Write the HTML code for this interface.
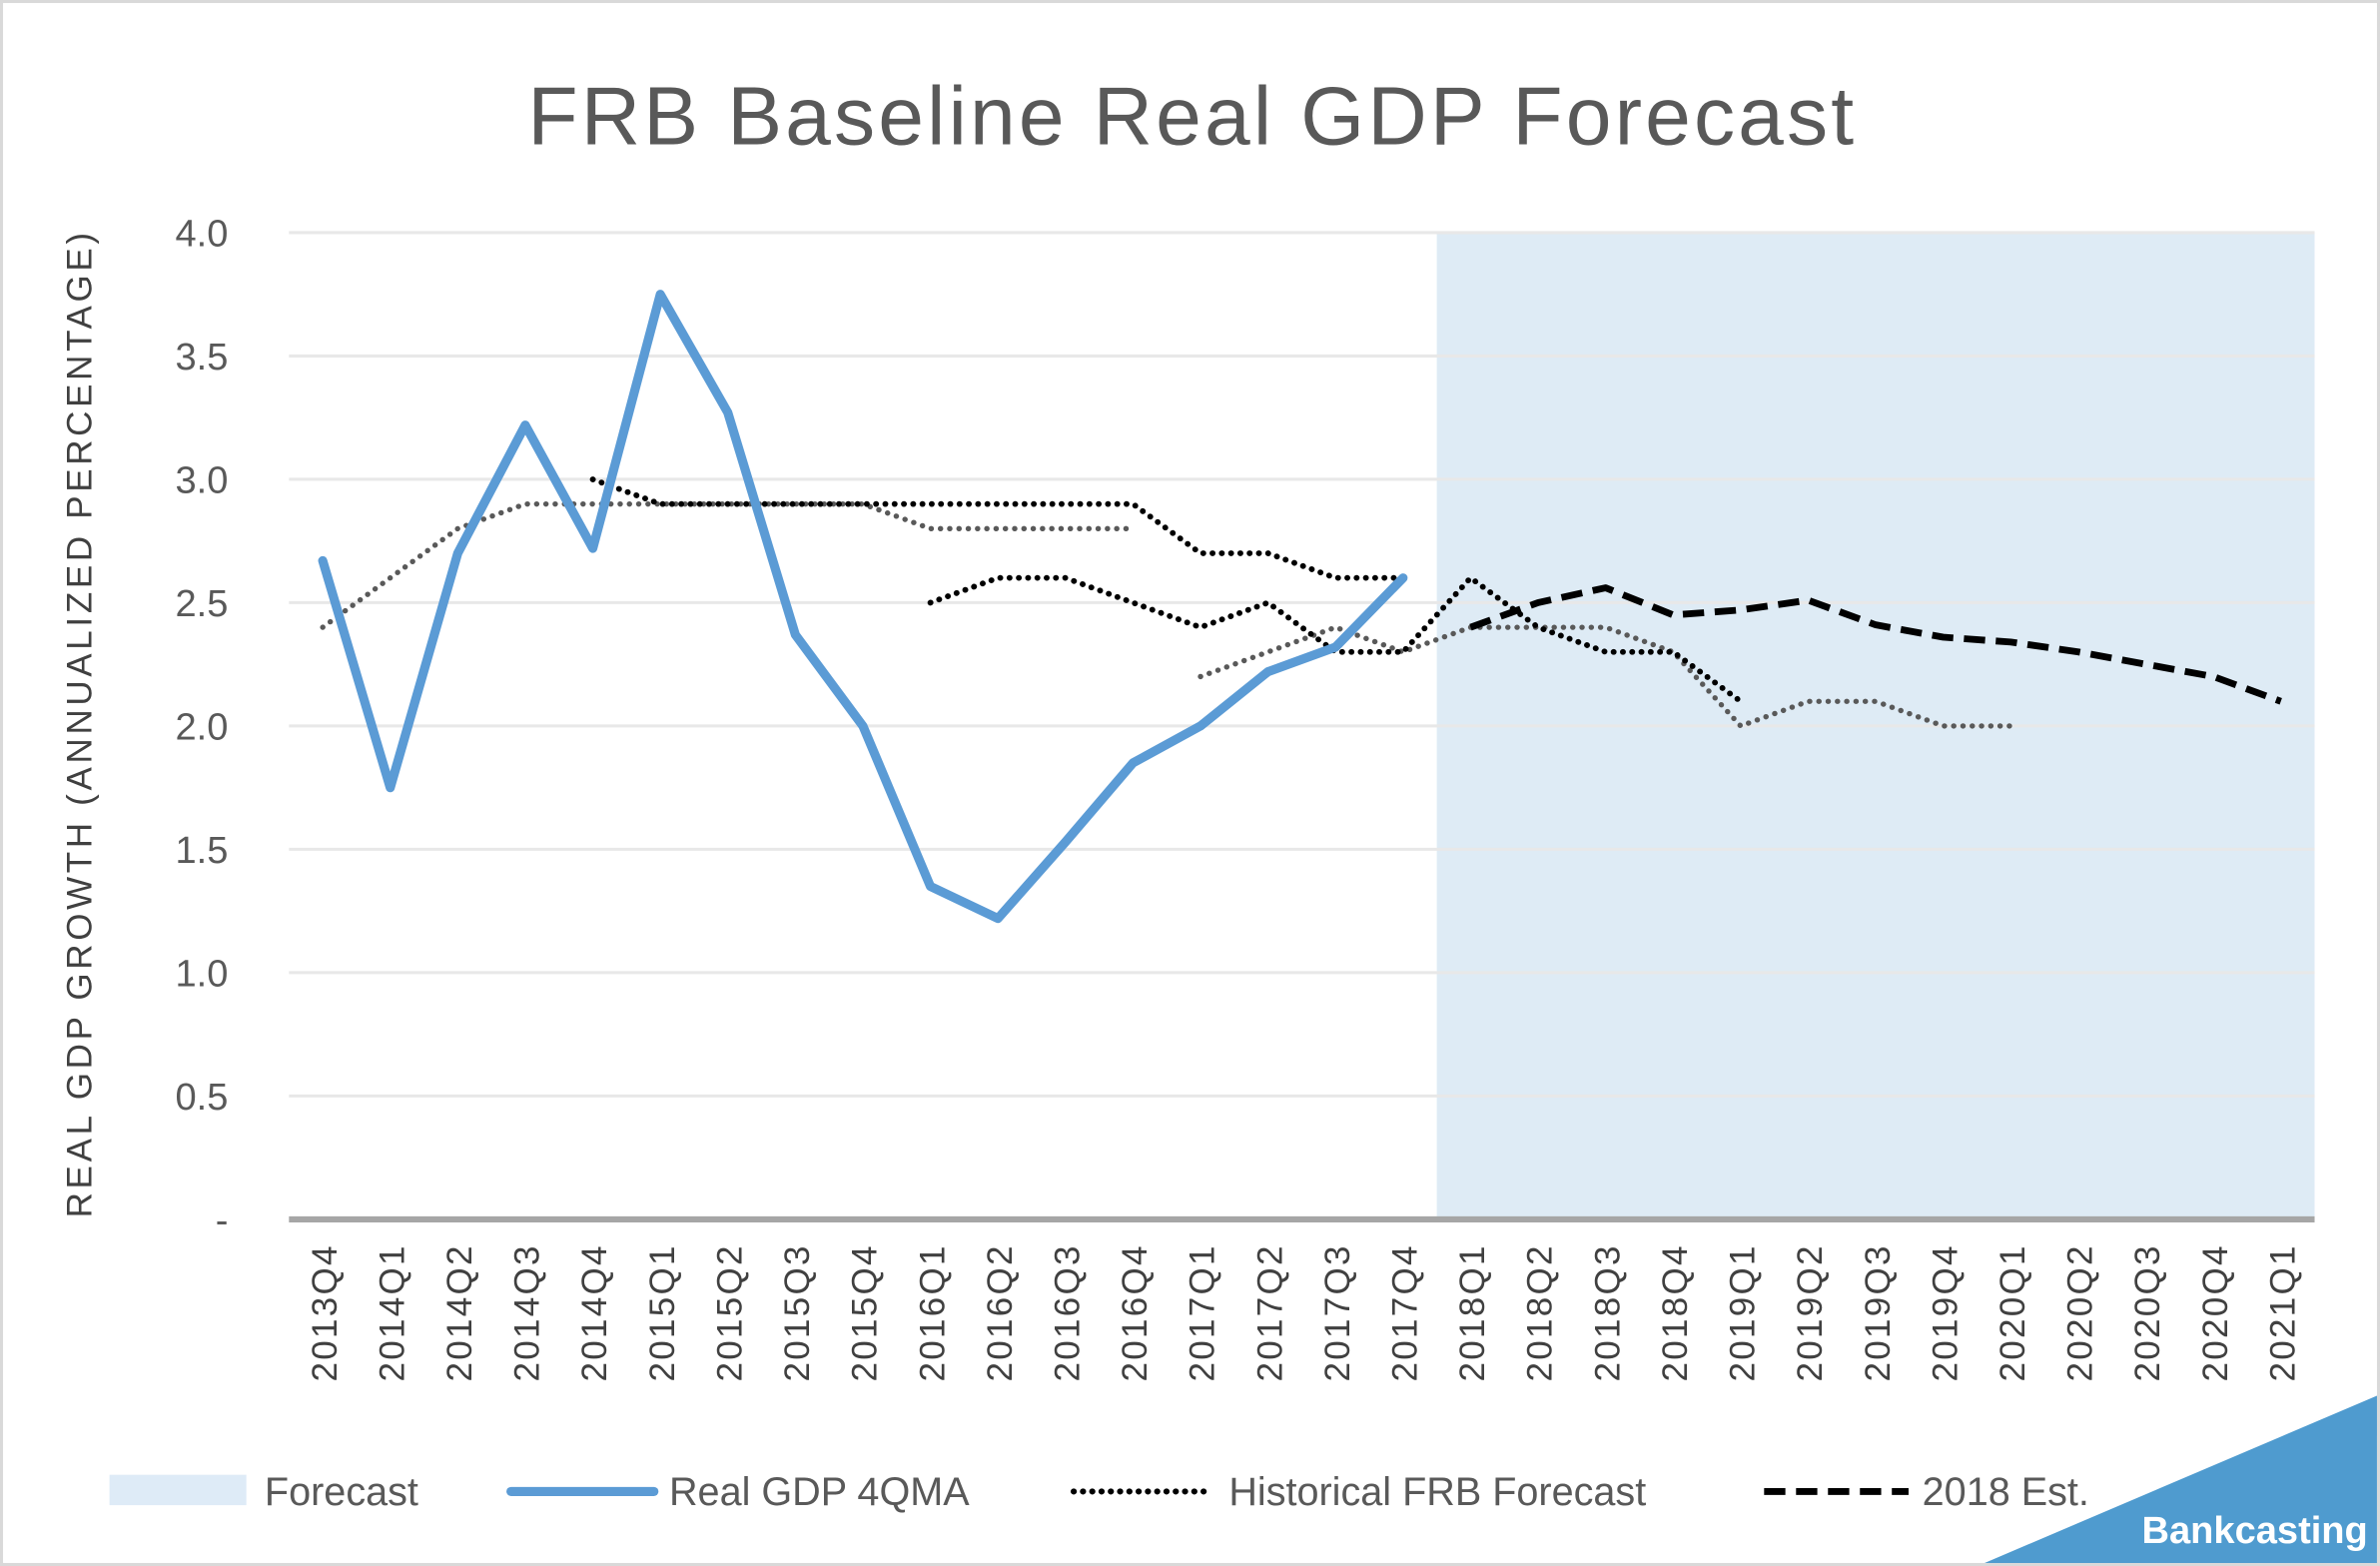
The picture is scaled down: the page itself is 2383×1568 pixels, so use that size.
<!DOCTYPE html>
<html><head><meta charset="utf-8"><style>
html,body{margin:0;padding:0;background:#fff}
svg{display:block}
text{font-family:"Liberation Sans",sans-serif}
</style></head><body>
<svg id="chart" width="2383" height="1568" viewBox="0 0 1565 1030" preserveAspectRatio="none" xmlns="http://www.w3.org/2000/svg">
<rect x="1" y="1" width="1563" height="1028" fill="#fff" stroke="#d9d9d9" stroke-width="2"/>
<text x="783" y="95" text-anchor="middle" font-size="54" fill="#595959" textLength="872">FRB Baseline Real GDP Forecast</text>
<g id="plot"></g>
<text transform="translate(60,477) rotate(-90)" text-anchor="middle" font-size="23" fill="#404040" textLength="648">REAL GDP GROWTH (ANNUALIZED PERCENTAGE)</text>
<g>
<rect x="72" y="970" width="90" height="20" fill="#deebf7"/>
<text x="174" y="990" font-size="26" fill="#595959">Forecast</text>
<line x1="336" y1="981" x2="430" y2="981" stroke="#5b9bd5" stroke-width="6" stroke-linecap="round"/>
<text x="440" y="990" font-size="26" fill="#595959">Real GDP 4QMA</text>
<line x1="706" y1="981" x2="795" y2="981" stroke="#000" stroke-width="4" stroke-dasharray="0.1,6" stroke-linecap="round"/>
<text x="808" y="990" font-size="26" fill="#595959">Historical FRB Forecast</text>
<line x1="1160" y1="981" x2="1255" y2="981" stroke="#000" stroke-width="4.5" stroke-dasharray="14,7"/>
<text x="1264" y="990" font-size="26" fill="#595959">2018 Est.</text>
</g>
<polygon points="1305,1028 1563,918 1563,1028" fill="#4f9bcf"/>
<text x="1557" y="1015" text-anchor="end" font-size="25" font-weight="bold" fill="#fff">Bankcasting</text>
</svg>
<script>
const categories=["2013Q4","2014Q1","2014Q2","2014Q3","2014Q4","2015Q1","2015Q2","2015Q3","2015Q4","2016Q1","2016Q2","2016Q3","2016Q4","2017Q1","2017Q2","2017Q3","2017Q4","2018Q1","2018Q2","2018Q3","2018Q4","2019Q1","2019Q2","2019Q3","2019Q4","2020Q1","2020Q2","2020Q3","2020Q4","2021Q1"];
const yTicks=[0,0.5,1,1.5,2,2.5,3,3.5,4];
const yTickLabels=["-","0.5","1.0","1.5","2.0","2.5","3.0","3.5","4.0"];
const forecastStart=17;
const realGdp=[2.67,1.75,2.7,3.22,2.72,3.75,3.27,2.37,2.0,1.35,1.22,1.53,1.85,2.0,2.22,2.32,2.6];
const hist1=[2.4,2.6,2.8,2.9,2.9,2.9,2.9,2.9,2.9,2.8,2.8,2.8,2.8];
const hist2=[null,null,null,null,3.0,2.9,2.9,2.9,2.9,2.9,2.9,2.9,2.9,2.7,2.7,2.6,2.6];
const hist3=[null,null,null,null,null,null,null,null,null,2.5,2.6,2.6,2.5,2.4,2.5,2.3,2.3,2.6,2.4,2.3,2.3,2.1];
const hist4=[null,null,null,null,null,null,null,null,null,null,null,null,null,2.2,2.3,2.4,2.3,2.4,2.4,2.4,2.3,2.0,2.1,2.1,2.0,2.0];
const est2018=[null,null,null,null,null,null,null,null,null,null,null,null,null,null,null,null,null,2.4,2.5,2.56,2.45,2.47,2.51,2.41,2.36,2.34,2.3,2.25,2.2,2.1];
const NS="http://www.w3.org/2000/svg";
const X0=190,X1=1522,Y0=802,Y1=153,YMAX=4;
const bw=(X1-X0)/categories.length;
function xPos(i){return X0+bw*(i+0.5);}
function yPos(v){return Y0-(v/YMAX)*(Y0-Y1);}
const plot=document.getElementById('plot');
function mk(tag,attrs){const e=document.createElementNS(NS,tag);for(const k in attrs)e.setAttribute(k,attrs[k]);plot.appendChild(e);return e;}
const sh=mk('rect',{x:X0+bw*forecastStart,y:yPos(YMAX),width:X1-(X0+bw*forecastStart),height:yPos(0)-yPos(YMAX),fill:'#deebf5'});


yTicks.forEach((t,i)=>{
  if(t>0){const g=mk('line',{x1:X0,x2:X1,y1:yPos(t),y2:yPos(t),stroke:'#e8e8e8','stroke-width':2});
  
  }
  const l=mk('text',{x:150,y:yPos(t)+9,'text-anchor':'end','font-size':25,fill:'#595959'});
  l.textContent=yTickLabels[i];
  
  
});
const ax=mk('line',{x1:X0,x2:X1,y1:Y0,y2:Y0,stroke:'#a6a6a6','stroke-width':4});


categories.forEach((c,i)=>{
  const t=mk('text',{transform:`translate(${xPos(i)+9},818) rotate(-90)`,'text-anchor':'end','font-size':23,fill:'#404040','letter-spacing':'1.5'});
  t.textContent=c;
  
  
});
function series(arr,style,name){
  let d='';let pen=false;
  arr.forEach((v,i)=>{if(v==null){pen=false;return;}d+=(pen?'L':'M')+xPos(i).toFixed(1)+','+yPos(v).toFixed(1);pen=true;});
  const p=mk('path',Object.assign({d:d,fill:'none','stroke-linejoin':'round'},style));
  
  
}
series(hist1,{stroke:'#595959','stroke-width':3.5,'stroke-dasharray':'0.1,6','stroke-linecap':'round'},'historical-forecast-1');
series(hist4,{stroke:'#595959','stroke-width':3.5,'stroke-dasharray':'0.1,6','stroke-linecap':'round'},'historical-forecast-4');
series(hist2,{stroke:'#000','stroke-width':3.8,'stroke-dasharray':'0.1,6','stroke-linecap':'round'},'historical-forecast-2');
series(hist3,{stroke:'#000','stroke-width':3.8,'stroke-dasharray':'0.1,6','stroke-linecap':'round'},'historical-forecast-3');
series(realGdp,{stroke:'#5b9bd5','stroke-width':6,'stroke-linecap':'round'},'real-gdp-line');
series(est2018,{stroke:'#000','stroke-width':4.5,'stroke-dasharray':'14,7'},'est-2018-line');
</script>
</body></html>
